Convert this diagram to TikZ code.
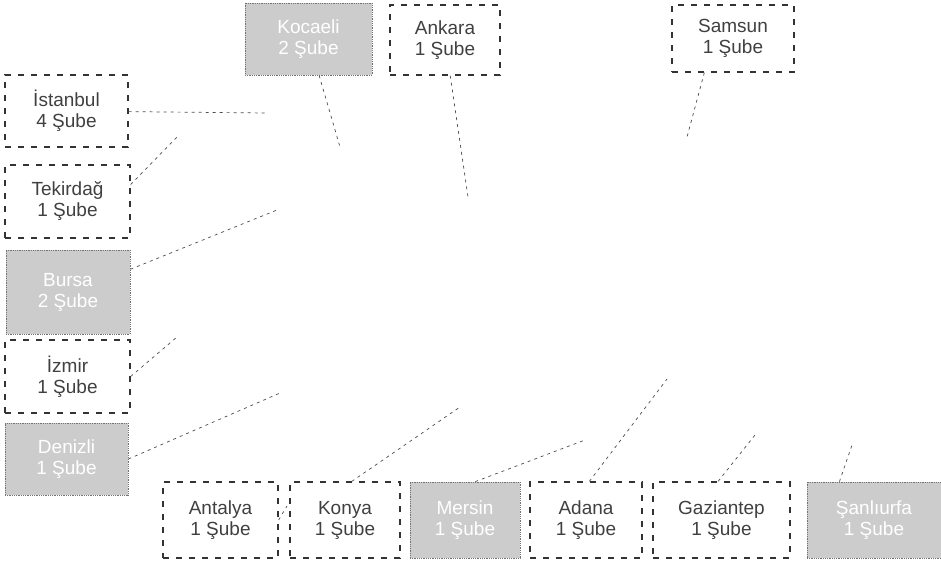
\documentclass[tikz,border=0pt]{standalone}
\usepackage{fontspec}
\setmainfont{Liberation Sans}
\usepackage{tikz}
\usepackage{xcolor}

\tikzset{
  sube/.style={draw=black!80, dash pattern=on 6pt off 7pt, line width=1.3pt, text=black!75, align=center, inner sep=0pt, font=\fontsize{19}{21}\selectfont},
  subegri/.style={draw=black!55, densely dotted, line width=0.8pt, fill=gray!40, text=white, align=center, inner sep=0pt, font=\fontsize{19}{21}\selectfont},
  baglanti/.style={draw=black!70, dash pattern=on 3pt off 4pt, line width=0.7pt}
}

\begin{document}
\begin{tikzpicture}[x=1pt,y=-1pt]
  \useasboundingbox (0,0) rectangle (941,563);

  % sol sutun
  \node[sube, minimum width=123pt, minimum height=72pt] (Ist) at (66.5,111) {İstanbul\\4 Şube};
  \node[sube, minimum width=125pt, minimum height=73pt] (Tek) at (67.5,201.5) {Tekirdağ\\1 Şube};
  \node[subegri, minimum width=124pt, minimum height=84pt] (Bur) at (68,292) {Bursa\\2 Şube};
  \node[sube, minimum width=125pt, minimum height=73pt] (Izm) at (67.5,376.5) {İzmir\\1 Şube};
  \node[subegri, minimum width=123pt, minimum height=72pt] (Den) at (66.5,459) {Denizli\\1 Şube};

  % ust sira
  \node[subegri, minimum width=127pt, minimum height=72pt] (Koc) at (308.5,39) {Kocaeli\\2 Şube};
  \node[sube, minimum width=110pt, minimum height=70pt] (Ank) at (445,40) {Ankara\\1 Şube};
  \node[sube, minimum width=122pt, minimum height=67pt] (Sam) at (733,38.5) {Samsun\\1 Şube};

  % alt sira
  \node[sube, minimum width=115pt, minimum height=76pt] (Ant) at (220.5,520) {Antalya\\1 Şube};
  \node[sube, minimum width=110pt, minimum height=76pt] (Kon) at (345,520) {Konya\\1 Şube};
  \node[subegri, minimum width=110pt, minimum height=76pt] (Mer) at (465,520) {Mersin\\1 Şube};
  \node[sube, minimum width=112pt, minimum height=76pt] (Ada) at (586,520) {Adana\\1 Şube};
  \node[sube, minimum width=137pt, minimum height=76pt] (Gaz) at (721.5,520) {Gaziantep\\1 Şube};
  \node[subegri, minimum width=134pt, minimum height=76pt] (San) at (874,520) {Şanlıurfa\\1 Şube};

  % sehir noktalari
  \coordinate (IstP) at (267,113);
  \coordinate (TekP) at (177,137);
  \coordinate (BurP) at (277,210);
  \coordinate (IzmP) at (177,337);
  \coordinate (DenP) at (280,393);
  \coordinate (KocP) at (340,147);
  \coordinate (AnkP) at (468,197);
  \coordinate (SamP) at (687,137);
  \coordinate (AntP) at (287,506);
  \coordinate (KonP) at (460,407);
  \coordinate (MerP) at (585,440);
  \coordinate (AdaP) at (667,379);
  \coordinate (GazP) at (755,435);
  \coordinate (SanP) at (852,445);

  \draw[baglanti] (Ist) to (IstP);
  \draw[baglanti] (Tek.15) to (TekP);
  \draw[baglanti] (Bur.20) to (BurP);
  \draw[baglanti] (Izm.east) to (IzmP);
  \draw[baglanti] (Den.east) to (DenP);

  \draw[baglanti] (Koc) to (KocP);
  \draw[baglanti] (Ank) to (AnkP);
  \draw[baglanti] (Sam.230) to (SamP);

  \draw[baglanti] (Ant.east) to (AntP);
  \draw[baglanti] (Kon.80) to (KonP);
  \draw[baglanti] (Mer.75) to (MerP);
  \draw[baglanti] (Ada.85) to (AdaP);
  \draw[baglanti] (Gaz.95) to (GazP);
  \draw[baglanti] (San.132) to (SanP);

\end{tikzpicture}
\end{document}
